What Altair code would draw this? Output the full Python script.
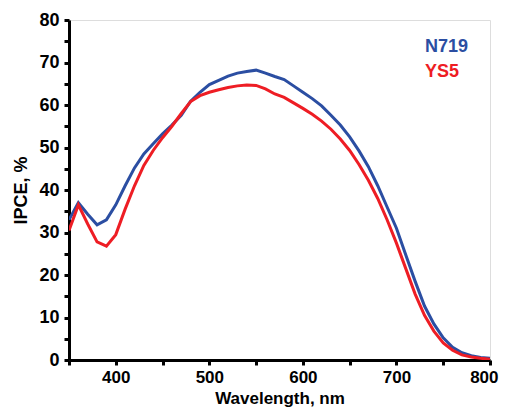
import altair as alt
import pandas as pd

wavelength = [350, 360, 370, 380, 390, 400, 410, 420, 430, 440, 450, 460, 470, 480, 490,
              500, 510, 520, 530, 540, 550, 560, 570, 580, 590, 600, 610, 620, 630, 640,
              650, 660, 670, 680, 690, 700, 710, 720, 730, 740, 750, 760, 770, 780, 790, 800]

n719 = [33.0, 37.0, 34.3, 31.8, 33.0, 36.5, 41.0, 45.2, 48.5, 50.9, 53.2, 55.3, 57.6, 60.9, 63.0,
        64.8, 65.8, 66.8, 67.5, 67.9, 68.2, 67.5, 66.7, 66.0, 64.5, 63.0, 61.5, 59.8, 57.6, 55.3,
        52.5, 49.2, 45.5, 41.0, 36.0, 31.0, 24.7, 18.5, 12.7, 8.5, 5.2, 3.0, 1.7, 1.0, 0.6, 0.4]

ys5 = [30.5, 36.5, 32.0, 27.8, 26.8, 29.5, 35.5, 41.0, 45.8, 49.3, 52.3, 55.0, 58.0, 60.8, 62.2,
       63.0, 63.6, 64.1, 64.5, 64.7, 64.6, 63.8, 62.6, 61.8, 60.5, 59.2, 57.8, 56.2, 54.3, 52.0,
       49.3, 46.0, 42.3, 38.0, 33.0, 27.5, 21.5, 15.5, 10.5, 6.8, 4.0, 2.3, 1.2, 0.7, 0.4, 0.2]

series_names = ["N719", "YS5"]
series_colors = ["#2B4EA2", "#EE1D24"]

x_ticks = list(range(350, 801, 50))
y_ticks = list(range(0, 81, 5))

df = pd.DataFrame({
    "Wavelength": wavelength * 2,
    "IPCE": n719 + ys5,
    "Dye": [series_names[0]] * len(wavelength) + [series_names[1]] * len(wavelength),
})

FONT = "Liberation Sans"

color_scale = alt.Scale(domain=series_names, range=series_colors)

lines = alt.Chart(df).mark_line(strokeWidth=3, interpolate="linear", clip=True).encode(
    x=alt.X("Wavelength:Q",
            scale=alt.Scale(domain=[350, 800], nice=False, zero=False),
            axis=alt.Axis(title="Wavelength, nm", values=x_ticks,
                          labelExpr="datum.value % 100 == 0 ? datum.label : ''",
                          grid=False, tickSize=5, tickWidth=3, tickColor="black",
                          domainColor="black", domainWidth=3,
                          labelFont=FONT, labelFontSize=17, labelFontWeight="bold",
                          labelColor="black", labelPadding=4,
                          labelFlush=True, labelFlushOffset=8,
                          titleFont=FONT, titleFontSize=17, titleFontWeight="bold",
                          titleColor="black", titleY=43, titleBaseline="alphabetic")),
    y=alt.Y("IPCE:Q",
            scale=alt.Scale(domain=[0, 80], nice=False),
            axis=alt.Axis(title="IPCE, %", values=y_ticks,
                          labelExpr="datum.value % 10 == 0 ? datum.label : ''",
                          grid=False, tickSize=5, tickWidth=3, tickColor="black",
                          domainColor="black", domainWidth=3,
                          labelFont=FONT, labelFontSize=18, labelFontWeight="bold",
                          labelColor="black", labelPadding=5, labelFlush=False,
                          titleFont=FONT, titleFontSize=18, titleFontWeight="bold",
                          titleColor="black", titlePadding=8)),
    color=alt.Color("Dye:N", scale=color_scale, legend=None),
    order=alt.Order("Wavelength:Q"),
)

legend_layers = []
for i, (name, col) in enumerate(zip(series_names, series_colors)):
    legend_layers.append(
        alt.Chart(pd.DataFrame({"Dye": [name]})).mark_text(
            font=FONT, fontSize=18, fontWeight="bold", align="left",
            baseline="middle", color=col
        ).encode(text="Dye:N", x=alt.value(356), y=alt.value(27 + 25 * i))
    )

chart = alt.layer(lines, *legend_layers).properties(
    width=421, height=340,
    padding={"left": 61, "top": 12, "right": 9, "bottom": 47},
    autosize=alt.AutoSizeParams(type="none"),
).configure_view(stroke="black", strokeWidth=3).configure(background="white")

chart.save("out.html", embed_options={"renderer": "svg", "actions": False})
